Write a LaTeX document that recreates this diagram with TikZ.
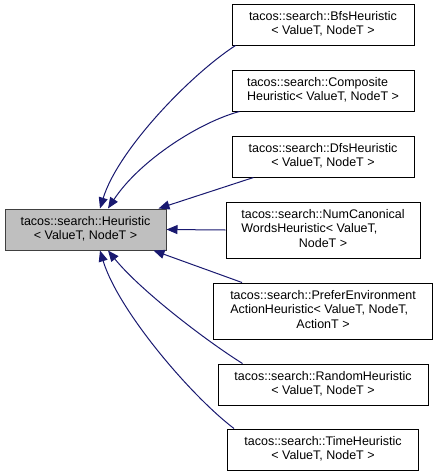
\documentclass[tikz,border=0pt]{standalone}
\usepackage{fontspec}
\setmainfont{Liberation Sans}
\usetikzlibrary{arrows.meta}
\definecolor{edgeblue}{HTML}{191970}
\definecolor{basegray}{HTML}{BFBFBF}
\definecolor{boxline}{HTML}{404040}
\newcommand{\lns}[1]{\begin{tabular}{@{}l@{}}#1\end{tabular}}
\newcommand{\ctr}[1]{\multicolumn{1}{@{}c@{}}{#1}}
\tikzset{
  cls/.style={draw=black, line width=1pt, fill=white, inner sep=0pt,
    font=\fontsize{12.5}{14.5}\selectfont},
  basecls/.style={cls, fill=basegray, draw=boxline},
  hier/.style={draw=edgeblue, line width=1pt,
    -{Triangle[length=11pt,width=9pt,fill=edgeblue]}},
}
\begin{document}
\begin{tikzpicture}[x=1pt,y=-1pt]
\useasboundingbox (0,0) rectangle (437,475);
\node[basecls, minimum width=161, minimum height=41] (base) at (85.5,229.5)
  {\lns{tacos::search::Heuristic\\ \ctr{< ValueT, NodeT >}}};
\node[cls, minimum width=182, minimum height=41] (bfs) at (323,24.5)
  {\lns{tacos::search::BfsHeuristic\\ \ctr{< ValueT, NodeT >}}};
\node[cls, minimum width=182, minimum height=41] (comp) at (323,90.5)
  {\lns{tacos::search::Composite\\ Heuristic< ValueT, NodeT >}};
\node[cls, minimum width=182, minimum height=41] (dfs) at (323,156.5)
  {\lns{tacos::search::DfsHeuristic\\ \ctr{< ValueT, NodeT >}}};
\node[cls, minimum width=194, minimum height=56] (num) at (323,230)
  {\lns{tacos::search::NumCanonical\\ WordsHeuristic< ValueT,\\ \ctr{NodeT >}}};
\node[cls, minimum width=219, minimum height=56] (pref) at (323,311)
  {\lns{tacos::search::PreferEnvironment\\ ActionHeuristic< ValueT, NodeT,\\ \ctr{ActionT >}}};
\node[cls, minimum width=210, minimum height=41] (rand) at (323,384.5)
  {\lns{tacos::search::RandomHeuristic\\ \ctr{< ValueT, NodeT >}}};
\node[cls, minimum width=191, minimum height=41] (time) at (323,449.5)
  {\lns{tacos::search::TimeHeuristic\\ \ctr{< ValueT, NodeT >}}};

\draw[hier] ([xshift=4]bfs.south west) .. controls (190,75) and (118,150) .. ([xshift=14.5]base.north);
\draw[hier] ([xshift=8]comp.south west) .. controls (200,122) and (140,160) .. ([xshift=22.5]base.north);
\draw[hier] ([xshift=22]dfs.south west) -- ([xshift=-8]base.north east);
\draw[hier] (num.west) -- (base.east);
\draw[hier] ([xshift=29]pref.north west) -- ([xshift=-13]base.south east);
\draw[hier] ([xshift=25]rand.north west) .. controls (205,340) and (140,290) .. ([xshift=22.5]base.south);
\draw[hier] ([xshift=7]time.north west) .. controls (190,395) and (118,310) .. ([xshift=14.5]base.south);
\end{tikzpicture}
\end{document}
